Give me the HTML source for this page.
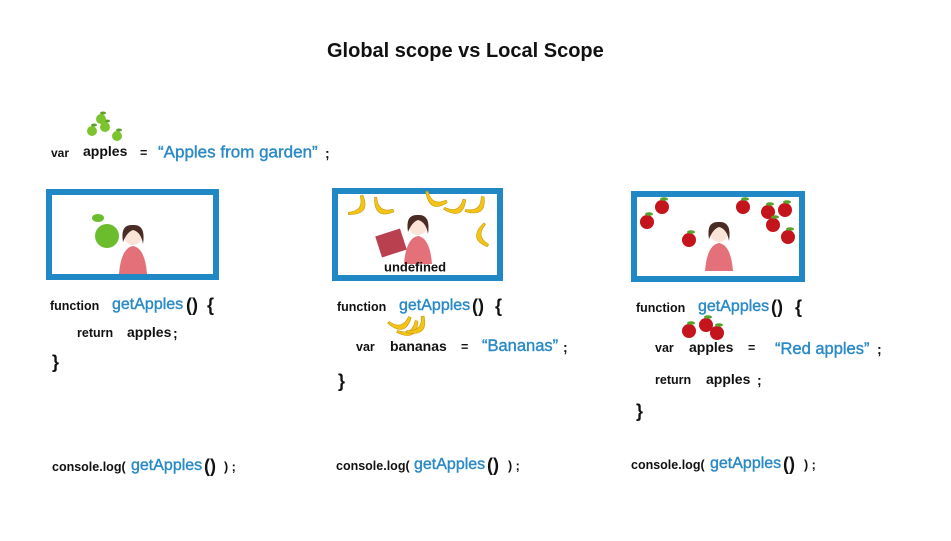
<!DOCTYPE html>
<html><head><meta charset="utf-8"><style>
body{margin:0;width:951px;height:541px;background:#fff;position:relative;overflow:hidden;font-family:"Liberation Sans",sans-serif}
.t{position:absolute;font-weight:bold;font-size:12.5px;color:#111;white-space:nowrap;line-height:1;transform:translateY(-50%)}
.b{color:#2a8ac6;font-size:16px;font-weight:normal;-webkit-text-stroke:0.4px #2a8ac6}
.p{font-size:18px}
.v{font-size:14px}
.box{position:absolute;border:6px solid #2188c6;box-sizing:border-box;background:#fff}
svg{position:absolute;left:0;top:0}
</style></head><body>
<div class="t" style="left:327px;top:51px;font-size:20px">Global scope vs Local Scope</div>

<div class="t" style="left:51px;top:153px;font-size:12px">var</div>
<div class="t v" style="left:83px;top:151px">apples</div>
<div class="t" style="left:140px;top:153px">=</div>
<div class="t b" style="left:158px;top:152px;font-size:17px">“Apples from garden”</div>
<div class="t v" style="left:325px;top:153px">;</div>

<div class="box" style="left:46px;top:189px;width:173px;height:91px"></div>
<div class="box" style="left:332px;top:188px;width:171px;height:93px"></div>
<div class="box" style="left:631px;top:191px;width:174px;height:91px"></div>

<svg width="951" height="541">
<defs>
<g id="w">
<path d="M-14 36 Q-12 10 0 8 Q12 10 14 36Z" fill="#e4707a"/>
<circle cx="0" cy="-2" r="9" fill="#fbe3d8"/>
<path d="M-10 4 Q-13 -14 0 -13 Q13 -14 10 6 Q8 -6 0 -8 Q-6 -6 -10 4Z" fill="#4a2c25"/>
</g>
<g id="ga"><circle r="5" fill="#7cc42e"/><ellipse cx="2" cy="-6" rx="3" ry="1.5" fill="#5aa02a"/></g>
<g id="ra"><circle r="7" fill="#c4141c"/><ellipse cx="2" cy="-8" rx="4" ry="1.8" fill="#5aa02a"/></g>
<path id="bn" d="M-11 -6 Q0 14 13 -3 L11 -5 Q0 6 -9 -7Z" fill="#f3c316" stroke="#c89a10" stroke-width="0.6"/>
</defs>
<use href="#ga" x="92" y="131"/><use href="#ga" x="105" y="127"/><use href="#ga" x="117" y="136"/><use href="#ga" x="101" y="119"/>
<use href="#w" x="133" y="238"/>
<circle cx="107" cy="236" r="12" fill="#6cbd2e"/><ellipse cx="98" cy="218" rx="6" ry="4" fill="#6cbd2e"/>
<use href="#w" x="418" y="228"/>
<rect x="378" y="232" width="26" height="22" fill="#b8404f" transform="rotate(-18 391 243)"/>
<use href="#bn" x="359" y="208" transform="rotate(-60 359 208)"/><use href="#bn" x="381" y="208" transform="rotate(30 381 208)"/><use href="#bn" x="434" y="201" transform="rotate(20 434 201)"/>
<use href="#bn" x="456" y="209" transform="rotate(-30 456 209)"/><use href="#bn" x="477" y="208" transform="rotate(-45 477 208)"/><use href="#bn" x="481" y="235" transform="rotate(75 481 235)"/>
<use href="#w" x="719" y="235"/>
<use href="#ra" x="662" y="207"/><use href="#ra" x="647" y="222"/><use href="#ra" x="689" y="240"/><use href="#ra" x="743" y="207"/>
<use href="#ra" x="768" y="212"/><use href="#ra" x="785" y="210"/><use href="#ra" x="773" y="225"/><use href="#ra" x="788" y="237"/>
<use href="#bn" x="400" y="325" transform="rotate(-20 400 325)"/><use href="#bn" x="409" y="331" transform="rotate(-35 409 331)"/><use href="#bn" x="418" y="328" transform="rotate(-50 418 328)"/>
<use href="#ra" x="689" y="331"/><use href="#ra" x="706" y="325"/><use href="#ra" x="717" y="333"/>
</svg>
<div class="t" style="left:384px;top:267px;font-size:13px">undefined</div>

<!-- col1 -->
<div class="t" style="left:50px;top:306px">function</div>
<div class="t b" style="left:112px;top:305px">getApples</div>
<div class="t p" style="left:186px;top:305px">()</div>
<div class="t p" style="left:207px;top:305px">{</div>
<div class="t" style="left:77px;top:333px">return</div>
<div class="t v" style="left:127px;top:332px">apples</div>
<div class="t v" style="left:173px;top:333px">;</div>
<div class="t p" style="left:52px;top:362px">}</div>
<div class="t" style="left:52px;top:467px">console.log(</div>
<div class="t b" style="left:131px;top:466px">getApples</div>
<div class="t p" style="left:204px;top:466px">()</div>
<div class="t" style="left:224px;top:467px">) ;</div>

<!-- col2 -->
<div class="t" style="left:337px;top:307px">function</div>
<div class="t b" style="left:399px;top:306px">getApples</div>
<div class="t p" style="left:472px;top:306px">()</div>
<div class="t p" style="left:495px;top:306px">{</div>
<div class="t" style="left:356px;top:347px">var</div>
<div class="t v" style="left:390px;top:346px">bananas</div>
<div class="t" style="left:461px;top:347px">=</div>
<div class="t b" style="left:482px;top:346px;font-size:16.5px">“Bananas”</div>
<div class="t v" style="left:563px;top:347px">;</div>
<div class="t p" style="left:338px;top:381px">}</div>
<div class="t" style="left:336px;top:466px">console.log(</div>
<div class="t b" style="left:414px;top:465px">getApples</div>
<div class="t p" style="left:487px;top:465px">()</div>
<div class="t" style="left:508px;top:466px">) ;</div>

<!-- col3 -->
<div class="t" style="left:636px;top:308px">function</div>
<div class="t b" style="left:698px;top:307px">getApples</div>
<div class="t p" style="left:771px;top:307px">()</div>
<div class="t p" style="left:795px;top:307px">{</div>
<div class="t" style="left:655px;top:348px">var</div>
<div class="t v" style="left:689px;top:347px">apples</div>
<div class="t" style="left:748px;top:348px">=</div>
<div class="t b" style="left:775px;top:349px;font-size:16.5px">“Red apples”</div>
<div class="t v" style="left:877px;top:349px">;</div>
<div class="t" style="left:655px;top:380px">return</div>
<div class="t v" style="left:706px;top:379px">apples</div>
<div class="t v" style="left:757px;top:380px">;</div>
<div class="t p" style="left:636px;top:411px">}</div>
<div class="t" style="left:631px;top:465px">console.log(</div>
<div class="t b" style="left:710px;top:464px">getApples</div>
<div class="t p" style="left:783px;top:464px">()</div>
<div class="t" style="left:804px;top:465px">) ;</div>
</body></html>
